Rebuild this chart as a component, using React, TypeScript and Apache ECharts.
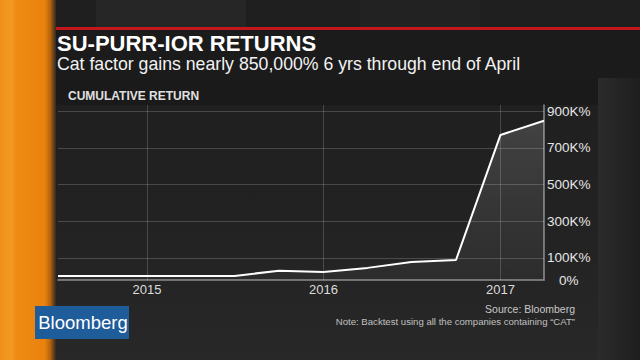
import React, { useEffect, useRef } from "react";
import * as echarts from "echarts";

const dates = [
  "2014-07-01", "2014-10-01", "2015-01-01", "2015-04-01", "2015-07-01", "2015-10-01",
  "2016-01-01", "2016-04-01", "2016-07-01", "2016-10-01", "2017-01-01", "2017-04-01",
];
// cumulative return, percent
const cumulativeReturn = [2000, 2000, 2000, 2000, 2000, 31000, 24000, 46000, 78000, 89000, 770000, 847000];
const gridValues = [100000, 300000, 500000, 700000, 900000];
const yearLines = ["2015-01-01", "2016-01-01", "2017-01-01"];

const TITLE = "SU-PURR-IOR RETURNS";
const SUBTITLE = "Cat factor gains nearly 850,000% 6 yrs through end of April";
const HEADER = "CUMULATIVE RETURN";
const SOURCE = "Source: Bloomberg";
const NOTE = "Note: Backtest using all the companies containing \u201CCAT\u201D";
const LOGO = "Bloomberg";

const FONT = "'Liberation Sans', Arial, sans-serif";

export default function App() {
  const ref = useRef<HTMLDivElement>(null);
  useEffect(() => {
    document.body.style.margin = "0";
    const chart = echarts.init(ref.current!, null, { renderer: "svg" });
    const fmtY = (v: number) => {
      if (v === 0) return "{z|0%}";
      if (gridValues.indexOf(v) >= 0) return v / 1000 + "K%";
      return "";
    };
    const gridLine = { color: "rgba(255,255,255,0.18)", type: "solid", width: 1 };
    chart.setOption({
      animation: false,
      backgroundColor: "#242424",
      grid: { left: 58, right: 96, top: 105, bottom: 80 },
      xAxis: {
        type: "time",
        min: "2014-07-01",
        max: "2017-04-01",
        minInterval: 365 * 86400000,
        axisLine: { show: true, onZero: false, lineStyle: { color: "#8c8c8c", width: 1.5 } },
        axisTick: { show: false },
        splitLine: { show: false },
        axisLabel: {
          color: "#dcdcdc",
          fontSize: 13,
          fontFamily: FONT,
          margin: 3,
          formatter: "{yyyy}",
          showMinLabel: false,
          showMaxLabel: false,
        },
      },
      yAxis: {
        type: "value",
        position: "right",
        min: -20000,
        max: 933000,
        interval: 20000,
        axisLine: { show: true, onZero: false, lineStyle: { color: "#8c8c8c", width: 1.5 } },
        axisTick: { show: false },
        splitLine: { show: false },
        axisLabel: {
          color: "#e6e6e6",
          fontSize: 13.5,
          fontFamily: FONT,
          margin: 3,
          formatter: fmtY,
          rich: { z: { fontSize: 13.5, fontFamily: FONT, color: "#e6e6e6", padding: [8, 0, 0, 12] } },
        },
      },
      series: [
        {
          type: "line",
          data: dates.map((d, i) => [d, cumulativeReturn[i]]),
          showSymbol: false,
          lineStyle: { color: "#ffffff", width: 2 },
          areaStyle: {
            origin: "start",
            color: new echarts.graphic.LinearGradient(0, 0, 0, 1, [
              { offset: 0, color: "rgba(255,255,255,0.22)" },
              { offset: 1, color: "rgba(255,255,255,0.05)" },
            ]),
          },
          markLine: {
            silent: true,
            symbol: ["none", "none"],
            label: { show: false },
            lineStyle: gridLine,
            data: [
              ...gridValues.map((v) => ({ yAxis: v })),
              ...yearLines.map((d) => ({ xAxis: d })),
            ],
          },
        },
      ],
      graphic: [
        // top strip
        { type: "rect", z: -20, shape: { x: 0, y: 0, width: 640, height: 28 }, style: { fill: "#1f1f1f" } },
        { type: "rect", z: -19, shape: { x: 96, y: 0, width: 150, height: 28 }, style: { fill: "#262626" } },
        { type: "rect", z: -19, shape: { x: 360, y: 0, width: 120, height: 28 }, style: { fill: "#222222" } },
        // right column
        {
          type: "rect", z: -20, shape: { x: 598, y: 78, width: 42, height: 282 },
          style: { fill: new echarts.graphic.LinearGradient(0, 0, 1, 0, [
            { offset: 0, color: "#2b2b2b" }, { offset: 1, color: "#1e1e1e" },
          ]) },
        },
        // panel
        {
          type: "rect", z: -20, shape: { x: 53, y: 78, width: 545, height: 282 },
          style: { fill: new echarts.graphic.LinearGradient(0, 0, 0, 1, [
            { offset: 0, color: "#1f1f1f" }, { offset: 0.5, color: "#222222" }, { offset: 1, color: "#282828" },
          ]) },
        },
        { type: "rect", z: -19, shape: { x: 53, y: 78, width: 545, height: 27 }, style: { fill: "#1a1a1a" } },
        // title block
        { type: "rect", z: -19, shape: { x: 53, y: 30, width: 587, height: 48 }, style: { fill: "#1b1b1b" } },
        { type: "rect", z: -18, shape: { x: 53, y: 27, width: 587, height: 3 }, style: { fill: "#c4161d" } },
        // orange stripe
        {
          type: "rect", z: -17, shape: { x: 0, y: 0, width: 56, height: 360 },
          style: { fill: new echarts.graphic.LinearGradient(0, 0, 1, 0, [
            { offset: 0, color: "#f0901a" },
            { offset: 0.2, color: "#f29a22" },
            { offset: 0.3, color: "#ee8a12" },
            { offset: 0.8, color: "#ea820e" },
            { offset: 0.9, color: "#b4620c" },
            { offset: 1, color: "#2e2a24" },
          ]) },
        },
        // texts
        {
          type: "text", z: 100, x: 57, y: 43,
          style: { text: TITLE, fill: "#ffffff", font: `bold 22px ${FONT}`, textVerticalAlign: "middle" },
        },
        {
          type: "text", z: 100, x: 57, y: 64,
          style: { text: SUBTITLE, fill: "#f2f2f2", font: `17.7px ${FONT}`, textVerticalAlign: "middle" },
        },
        {
          type: "text", z: 100, x: 68, y: 96,
          style: { text: HEADER, fill: "#e0e0e0", font: `bold 12px ${FONT}`, textVerticalAlign: "middle" },
        },
        {
          type: "text", z: 100, x: 575, y: 309,
          style: { text: SOURCE, fill: "#c8c8c8", font: `10.5px ${FONT}`, textAlign: "right", textVerticalAlign: "middle" },
        },
        {
          type: "text", z: 100, x: 575, y: 321,
          style: { text: NOTE, fill: "#c0c0c0", font: `9.6px ${FONT}`, textAlign: "right", textVerticalAlign: "middle" },
        },
        // logo
        { type: "rect", z: 99, shape: { x: 35, y: 306, width: 94, height: 33 }, style: { fill: "#1f5c9a" } },
        {
          type: "text", z: 100, x: 83, y: 322,
          style: { text: LOGO, fill: "#ffffff", font: `18.5px ${FONT}`, textAlign: "center", textVerticalAlign: "middle" },
        },
      ],
    });
    return () => chart.dispose();
  }, []);
  return <div ref={ref} style={{ position: "absolute", left: 0, top: 0, width: 640, height: 360 }} />;
}
